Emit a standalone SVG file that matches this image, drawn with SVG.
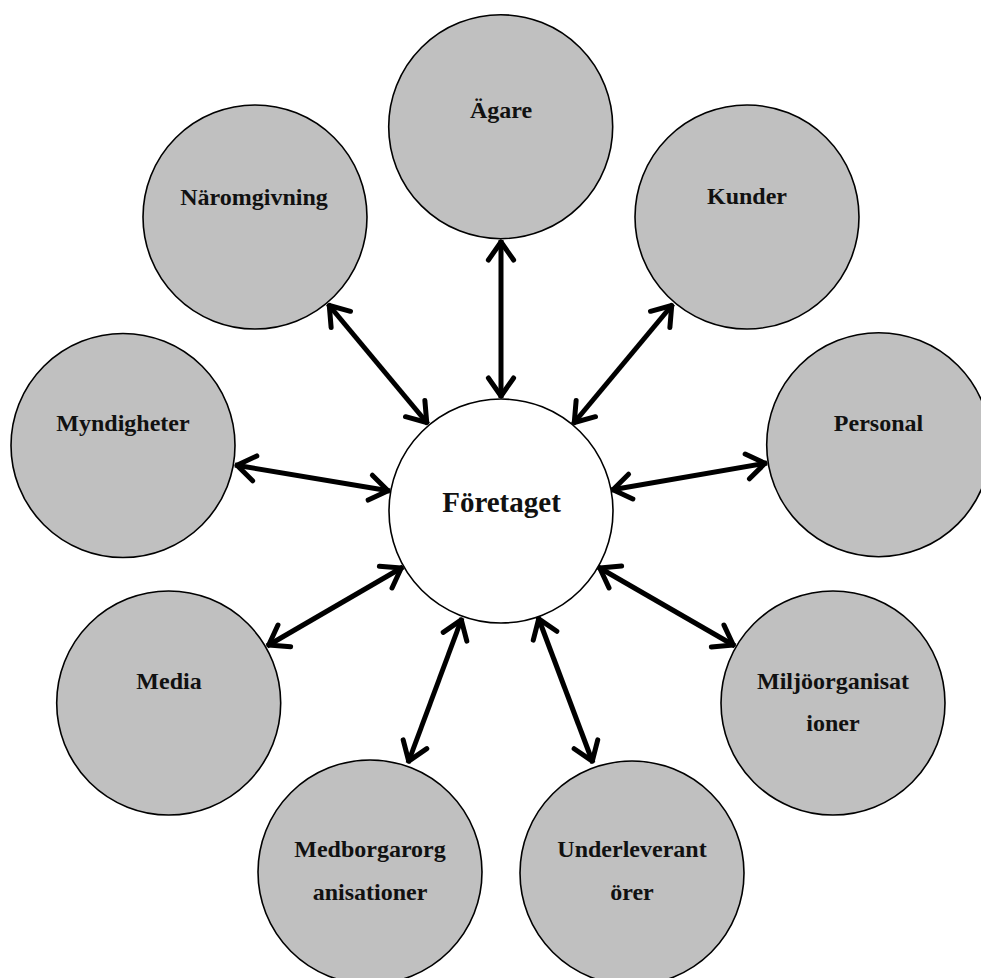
<svg xmlns="http://www.w3.org/2000/svg" width="981" height="978" viewBox="0 0 981 978">
<style>
.node{fill:#c0c0c0;stroke:#000;stroke-width:1.6}
.center{fill:#fff;stroke:#000;stroke-width:1.6}
.lbl{font-family:"Liberation Serif","Times New Roman",serif;font-weight:bold;font-size:24px;fill:#111;text-anchor:middle}
.big{font-size:29px}
.conn{stroke:#000;stroke-width:5;fill:none;marker-start:url(#ah);marker-end:url(#ah)}
</style>
<defs>
<marker id="ah" markerUnits="userSpaceOnUse" markerWidth="30" markerHeight="36" refX="2" refY="0" orient="auto-start-reverse" overflow="visible">
<path d="M-18,-12.6 L0,0 L-18,12.6" fill="none" stroke="#000" stroke-width="5" stroke-linecap="round" stroke-linejoin="round"/>
</marker>
</defs>
<rect width="981" height="978" fill="#fff"/>
<g id="connectors">
<line class="conn" x1="501" y1="240" x2="501" y2="398"/>
<line class="conn" x1="328" y1="304" x2="428" y2="424"/>
<line class="conn" x1="673" y1="304" x2="573" y2="424"/>
<line class="conn" x1="235" y1="465" x2="390" y2="491"/>
<line class="conn" x1="767" y1="463" x2="611" y2="490"/>
<line class="conn" x1="267" y1="646" x2="403" y2="567"/>
<line class="conn" x1="735" y1="646" x2="598" y2="567"/>
<line class="conn" x1="408" y1="763" x2="462" y2="618"/>
<line class="conn" x1="593" y1="763" x2="538" y2="617"/>
</g>
<g id="foretaget">
<circle class="center" cx="501" cy="511" r="112"/>
<text class="lbl big" x="501.5" y="512">Företaget</text>
</g>
<g id="agare">
<circle class="node" cx="500.7" cy="126.7" r="112"/>
<text class="lbl" x="501" y="118">Ägare</text>
</g>
<g id="naromgivning">
<circle class="node" cx="255" cy="217" r="112"/>
<text class="lbl" x="254" y="205">Näromgivning</text>
</g>
<g id="kunder">
<circle class="node" cx="747" cy="217" r="112"/>
<text class="lbl" x="747" y="204">Kunder</text>
</g>
<g id="myndigheter">
<circle class="node" cx="123" cy="445.5" r="112"/>
<text class="lbl" x="123" y="431">Myndigheter</text>
</g>
<g id="personal">
<circle class="node" cx="878.7" cy="444.7" r="112"/>
<text class="lbl" x="878.5" y="430.7">Personal</text>
</g>
<g id="media">
<circle class="node" cx="168.7" cy="703" r="112"/>
<text class="lbl" x="169" y="689">Media</text>
</g>
<g id="miljoorganisationer">
<circle class="node" cx="833" cy="703" r="112"/>
<text class="lbl" x="833" y="689.3">Miljöorganisat</text>
<text class="lbl" x="833" y="731">ioner</text>
</g>
<g id="medborgarorganisationer">
<circle class="node" cx="370" cy="872" r="112"/>
<text class="lbl" x="370" y="857">Medborgarorg</text>
<text class="lbl" x="370" y="900">anisationer</text>
</g>
<g id="underleverantorer">
<circle class="node" cx="632" cy="873" r="112"/>
<text class="lbl" x="632" y="857">Underleverant</text>
<text class="lbl" x="632" y="900">örer</text>
</g>
</svg>
